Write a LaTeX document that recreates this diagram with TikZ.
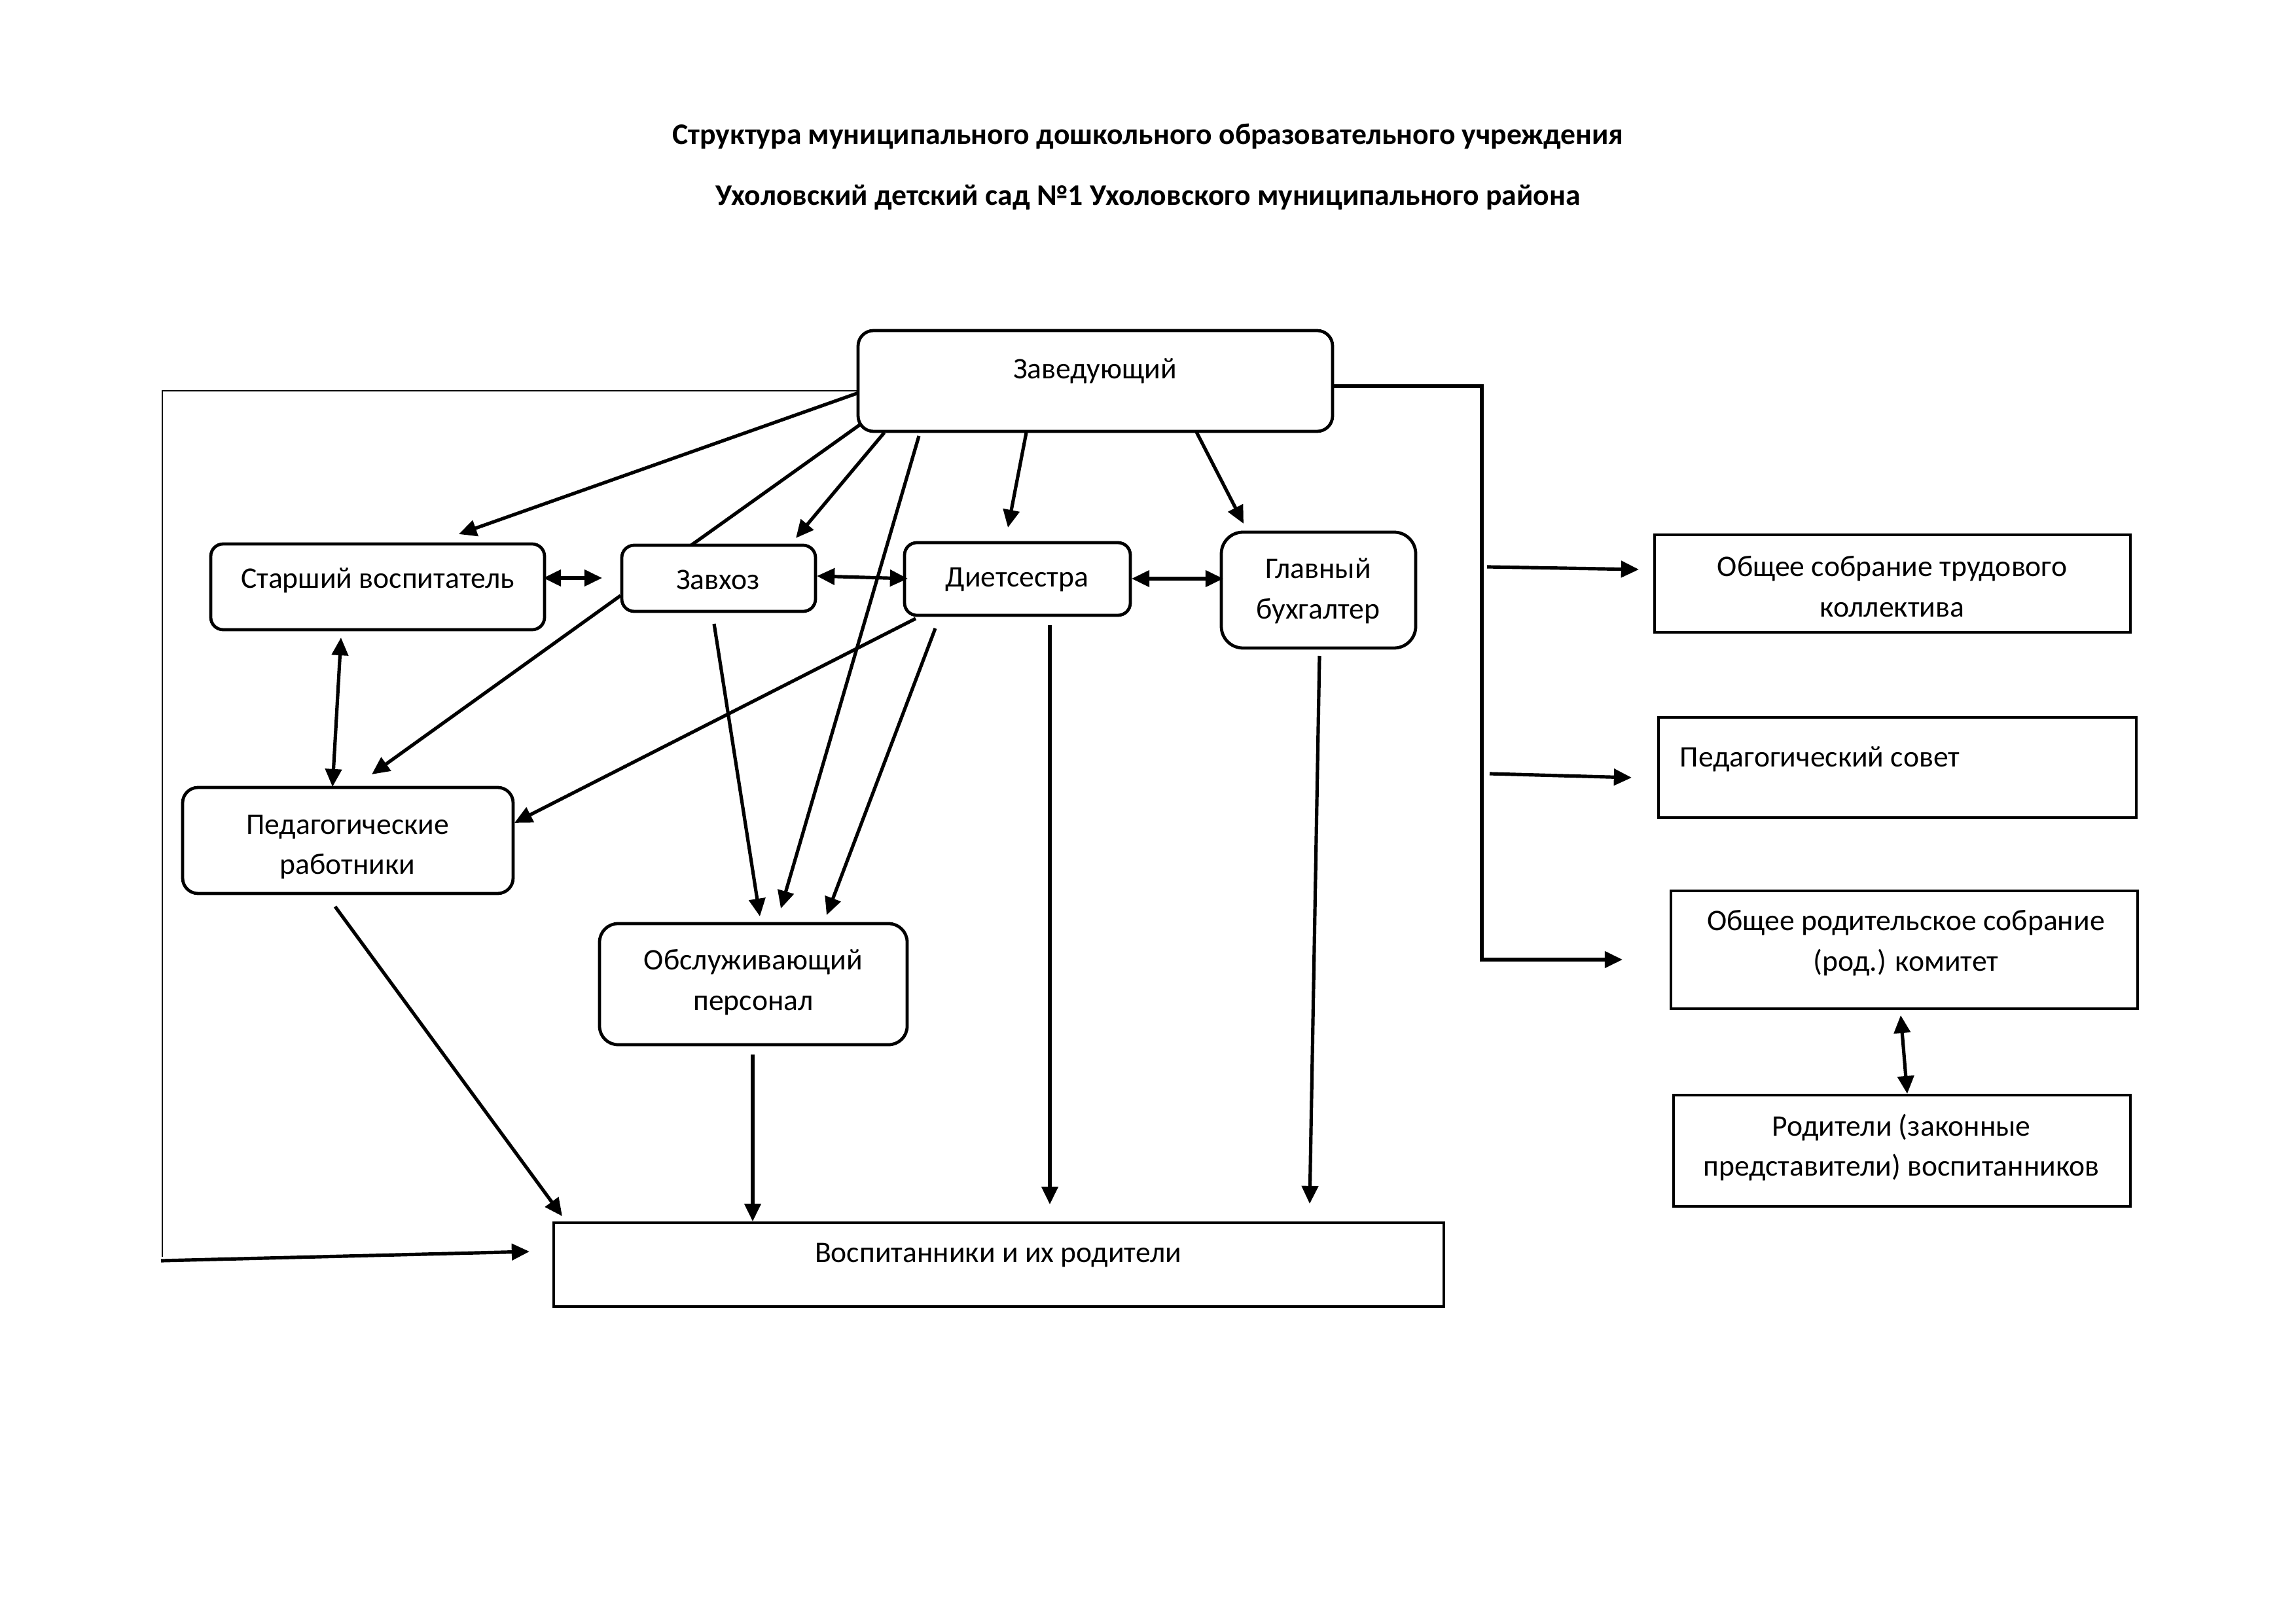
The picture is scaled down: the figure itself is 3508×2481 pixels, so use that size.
\documentclass[tikz,border=0pt]{standalone}
\usepackage{fontspec}
\setmainfont{Carlito}
\usetikzlibrary{arrows.meta,fit}
\begin{document}
\begin{tikzpicture}[x=0.084664mm,y=-0.084664mm,
  rbox/.style={draw, line width=1.15pt, rounded corners=2mm, inner sep=0pt},
  sbox/.style={draw, line width=0.95pt, inner sep=0pt},
  txt/.style={font=\fontsize{11}{14.9}\selectfont, align=center, inner sep=0pt},
  ttl/.style={font=\fontsize{11}{13}\selectfont\bfseries, inner sep=0pt},
  conn/.style={line width=1.25pt, -{Triangle[length=2.3mm,width=2.1mm]}},
  dconn/.style={line width=1.25pt, {Triangle[length=2.3mm,width=2.1mm]}-{Triangle[length=2.3mm,width=2.1mm]}},
  plain/.style={line width=1.25pt},
  thinline/.style={line width=0.5pt}]
\useasboundingbox (0,0) rectangle (3508,2481);

% titles
\node[ttl] (t1) at (1754,208) {Структура муниципального дошкольного образовательного учреждения};
\node[ttl] (t2) at (1754,302) {Ухоловский детский сад №1 Ухоловского муниципального района};

% box corners
\coordinate (zav1) at (1311,505);  \coordinate (zav2) at (2036,659);
\coordinate (star1) at (322,831);  \coordinate (star2) at (832,962);
\coordinate (zavh1) at (950,833);  \coordinate (zavh2) at (1246,934);
\coordinate (diet1) at (1382,829); \coordinate (diet2) at (1727,940);
\coordinate (glav1) at (1866,813); \coordinate (glav2) at (2163,990);
\coordinate (ped1) at (279,1203);  \coordinate (ped2) at (784,1365);
\coordinate (obs1) at (916,1411);  \coordinate (obs2) at (1386,1596);
\coordinate (vosp1) at (846,1868); \coordinate (vosp2) at (2206,1996);
\coordinate (ost1) at (2528,817);  \coordinate (ost2) at (3255,966);
\coordinate (psov1) at (2534,1096);\coordinate (psov2) at (3264,1249);
\coordinate (orod1) at (2553,1361);\coordinate (orod2) at (3266,1541);
\coordinate (rodit1) at (2557,1673);\coordinate (rodit2) at (3255,1843);

% boxes
\node[rbox, fit=(zav1)(zav2)] (zav) {};
\node[rbox, rounded corners=1.6mm, fit=(star1)(star2)] (star) {};
\node[rbox, rounded corners=1.6mm, fit=(zavh1)(zavh2)] (zavh) {};
\node[rbox, rounded corners=1.6mm, fit=(diet1)(diet2)] (diet) {};
\node[rbox, rounded corners=2.8mm, fit=(glav1)(glav2)] (glav) {};
\node[rbox, fit=(ped1)(ped2)] (ped) {};
\node[rbox, rounded corners=2.4mm, fit=(obs1)(obs2)] (obs) {};
\node[sbox, line width=1.1pt, fit=(vosp1)(vosp2)] (vosp) {};
\node[sbox, fit=(ost1)(ost2)] (ost) {};
\node[sbox, fit=(psov1)(psov2)] (psov) {};
\node[sbox, fit=(orod1)(orod2)] (orod) {};
\node[sbox, fit=(rodit1)(rodit2)] (rodit) {};

% texts
\node[txt] (zavT) at (1673,567) {Заведующий};
\node[txt] (starT) at (577,887) {Старший воспитатель};
\node[txt] (zavhT) at (1097,886) {Завхоз};
\node[txt] (dietT) at (1554,886) {Диетсестра};
\node[txt] (glavT) at (2014,903) {Главный\\бухгалтер};
\node[txt] (pedT) at (531,1294) {Педагогические\\работники};
\node[txt] (obsT) at (1151,1501) {Обслуживающий\\персонал};
\node[txt] (vospT) at (1525,1918) {Воспитанники и их родители};
\node[txt] (ostT) at (2891,896) {Общее собрание трудового\\коллектива};
\node[txt, anchor=west] (psovT) at (2566,1160) {Педагогический совет};
\node[txt] (orodT) at (2912,1441) {Общее родительское собрание\\(род.) комитет};
\node[txt] (roditT) at (2905,1753) {Родители (законные\\представители) воспитанников};

% connector end points
\coordinate (L0) at (1311,597);
\coordinate (L1) at (248,597);
\coordinate (L2) at (248,1920);
\coordinate (L3) at (246,1926);
\coordinate (L4) at (809,1912);

\coordinate (R0) at (2036,590);
\coordinate (R1) at (2264,590);
\coordinate (R2) at (2264,1466);
\coordinate (R3) at (2479,1466);
\coordinate (Ra) at (2272,866);
\coordinate (Rb) at (2504,870);
\coordinate (Rc) at (2276,1182);
\coordinate (Rd) at (2493,1188);

\coordinate (a1) at (1312,600);  \coordinate (b1) at (701,816);
\coordinate (a2) at (1315,648);  \coordinate (b2) at (1056,833);
\coordinate (a3) at (1351,661);  \coordinate (b3) at (1216,822);
\coordinate (a4) at (1404,666);  \coordinate (b4) at (1193,1388);
\coordinate (a5) at (1568,661);  \coordinate (b5) at (1540,806);
\coordinate (a6) at (1828,660);  \coordinate (b6) at (1900,800);

\coordinate (d1a) at (830,883);   \coordinate (d1b) at (920,883);
\coordinate (d2a) at (1248,880);  \coordinate (d2b) at (1387,884);
\coordinate (d3a) at (1729,884);  \coordinate (d3b) at (1869,884);
\coordinate (d4a) at (521,974);   \coordinate (d4b) at (508,1202);
\coordinate (d5a) at (2904,1551); \coordinate (d5b) at (2914,1671);

\coordinate (c1a) at (948,910);   \coordinate (c1b) at (568,1183);
\coordinate (c2a) at (1399,945);  \coordinate (c2b) at (786,1257);
\coordinate (c3a) at (1429,960);  \coordinate (c3b) at (1263,1398);
\coordinate (c4a) at (1091,953);  \coordinate (c4b) at (1161,1400);
\coordinate (c5a) at (1604,955);  \coordinate (c5b) at (1604,1840);
\coordinate (c6a) at (2016,1002); \coordinate (c6b) at (2001,1839);
\coordinate (c7a) at (512,1385);  \coordinate (c7b) at (859,1858);
\coordinate (c8a) at (1150,1611); \coordinate (c8b) at (1150,1866);

% left loop
\draw[thinline] (L0) -- (L1) -- (L2);
\draw[conn] (L3) -- (L4);

% right bracket
\draw[conn] (R0) -- (R1) -- (R2) -- (R3);
\draw[conn] (Ra) -- (Rb);
\draw[conn] (Rc) -- (Rd);

% fan from Заведующий
\draw[conn] (a1) -- (b1);
\draw[plain] (a2) -- (b2);
\draw[conn] (a3) -- (b3);
\draw[conn] (a4) -- (b4);
\draw[conn] (a5) -- (b5);
\draw[conn] (a6) -- (b6);

% double arrows
\draw[dconn] (d1a) -- (d1b);
\draw[dconn] (d2a) -- (d2b);
\draw[dconn] (d3a) -- (d3b);
\draw[dconn] (d4a) -- (d4b);
\draw[dconn] (d5a) -- (d5b);

% other arrows
\draw[conn] (c1a) -- (c1b);
\draw[conn] (c2a) -- (c2b);
\draw[conn] (c3a) -- (c3b);
\draw[conn] (c4a) -- (c4b);
\draw[conn] (c5a) -- (c5b);
\draw[conn] (c6a) -- (c6b);
\draw[conn] (c7a) -- (c7b);
\draw[conn] (c8a) -- (c8b);
\end{tikzpicture}
\end{document}
